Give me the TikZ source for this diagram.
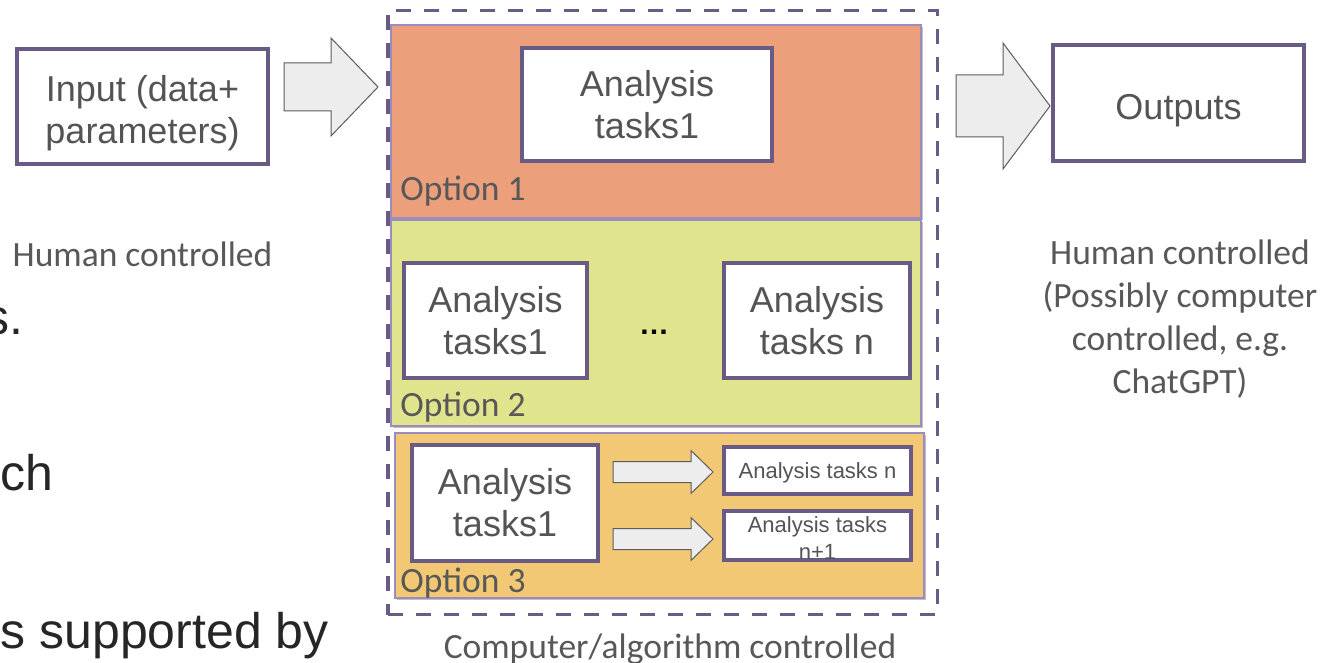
\documentclass[tikz,border=0pt]{standalone}
\usepackage{fontspec}
\usepackage{tikz}
\usetikzlibrary{calc, shadows}

\newfontfamily\arialfont{Liberation Sans}
\newfontfamily\calibrifont{Carlito}

\definecolor{boxline}{HTML}{6A5B86}
\definecolor{panelline}{HTML}{9C8BC0}
\definecolor{boxtext}{HTML}{545454}
\definecolor{labeltext}{HTML}{585858}
\definecolor{bodytext}{HTML}{262626}
\definecolor{optone}{HTML}{EC9F7B}
\definecolor{opttwo}{HTML}{E0E48C}
\definecolor{optthree}{HTML}{F3C874}
\definecolor{arrowfill}{HTML}{EDEDED}
\definecolor{arrowline}{HTML}{5C5C5C}

% block arrow: start, length, shaft half, head half, head length
\newcommand{\blockarrow}[5]{%
  \draw[fatarrow] (#1) ++(0,#3) -- ++({#2-#5},0) -- ++(0,{#4-#3})
    -- ++(#5,-#4) -- ++(-#5,-#4) -- ++(0,{#4-#3}) -- ++({#5-#2},0) -- cycle;}

\begin{document}
\begin{tikzpicture}[
    x = 0.5pt, y = -0.5pt,
    task/.style = {draw = boxline, line width = 2pt, fill = white,
      text = boxtext, align = center, inner sep = 0pt,
      font = \arialfont\fontsize{18}{21}\selectfont},
    smalltask/.style = {task, font = \arialfont\fontsize{11}{13.5}\selectfont},
    panel/.style = {draw = panelline, line width = 0.6pt, inner sep = 0pt,
      drop shadow = {shadow xshift = 0.8pt, shadow yshift = -1pt,
        opacity = 0.25, fill = black}},
    optlabel/.style = {text = labeltext, inner sep = 0pt, anchor = base west,
      font = \calibrifont\fontsize{17.75}{21.5}\selectfont},
    note/.style = {text = labeltext, inner sep = 0pt, align = center,
      font = \calibrifont\fontsize{17.75}{21.5}\selectfont},
    bodyline/.style = {text = bodytext, inner sep = 0pt, anchor = base east,
      font = \arialfont\fontsize{25}{29}\selectfont},
    fatarrow/.style = {draw = arrowline, fill = arrowfill, line width = 0.5pt}
  ]
  \useasboundingbox (0,0) rectangle (1339,663);

  % slide text behind the figure
  \node[bodyline] (body1) at (24,335) {s.};
  \node[bodyline] (body2) at (54,490) {ch};
  \node[bodyline] (body3) at (329,648) {s supported by};

  % outer frame
  \node[draw = boxline, line width = 1.75pt, dash pattern = on 7.5pt off 6.5pt,
    minimum width = 274.75pt, minimum height = 302pt] (algo) at (662.5,312.5) {};

  % option panels
  \node[panel, fill = optone, minimum width = 265pt, minimum height = 96.5pt]
    (opt1) at (656,121.5) {};
  \node[panel, fill = opttwo, minimum width = 265pt, minimum height = 103pt]
    (opt2) at (656,323) {};
  \node[panel, fill = optthree, minimum width = 264.5pt, minimum height = 82.5pt]
    (opt3) at (659.5,515.5) {};

  % boxes
  \node[task, minimum width = 125.5pt, minimum height = 57.5pt]
    (input) at (142.5,106.5) {\rule{0pt}{19.5pt}Input (data+\\parameters)};
  \node[task, minimum width = 125.5pt, minimum height = 58pt]
    (output) at (1178.5,103) {\rule{0pt}{20pt}Outputs};
  \node[task, minimum width = 125pt, minimum height = 56.5pt]
    (task1) at (647,104.5) {Analysis\\tasks1};
  \node[task, minimum width = 91.5pt, minimum height = 57.5pt]
    (task2a) at (495.5,320.5) {Analysis\\tasks1};
  \node[task, minimum width = 93pt, minimum height = 57.5pt]
    (task2n) at (817,320.5) {Analysis\\tasks n};
  \node[task, minimum width = 93pt, minimum height = 58pt]
    (task3a) at (505,503) {Analysis\\tasks1};
  \node[smalltask, minimum width = 93.5pt, minimum height = 23.5pt]
    (task3n) at (817.5,470.5) {\rule{0pt}{10pt}Analysis tasks n};
  \node[smalltask, minimum width = 93.5pt, minimum height = 24pt]
    (task3m) at (817.5,535) {\rule{0pt}{11pt}Analysis tasks\\n+1};
  \node[inner sep = 0pt, anchor = base,
    font = \arialfont\bfseries\fontsize{15}{17}\selectfont]
    (dots) at (654,335) {…};

  % arrows
  \coordinate (inarrow) at (284,87);
  \coordinate (outarrow) at (956,106);
  \coordinate (narrow) at (613,472);
  \coordinate (marrow) at (613,539);
  \blockarrow{inarrow}{94}{24}{49}{47}
  \blockarrow{outarrow}{94}{31}{63}{47}
  \blockarrow{narrow}{100}{10.5}{21.5}{22}
  \blockarrow{marrow}{100}{10.5}{21.5}{22}

  % Labels
  \node[optlabel] (lab1) at (400,201) {Option 1};
  \node[optlabel] (lab2) at (400,416) {Option 2};
  \node[optlabel] (lab3) at (400,592) {Option 3};
  \node[note, anchor = base] (human) at (142.5,267) {Human controlled};
  \node[note, anchor = base] (computer) at (670,658) {Computer/algorithm controlled};
  \node[note, anchor = north] (humanout) at (1180,239)
    {Human controlled\\(Possibly computer\\controlled, e.g.\\ChatGPT)};

\end{tikzpicture}
\end{document}
